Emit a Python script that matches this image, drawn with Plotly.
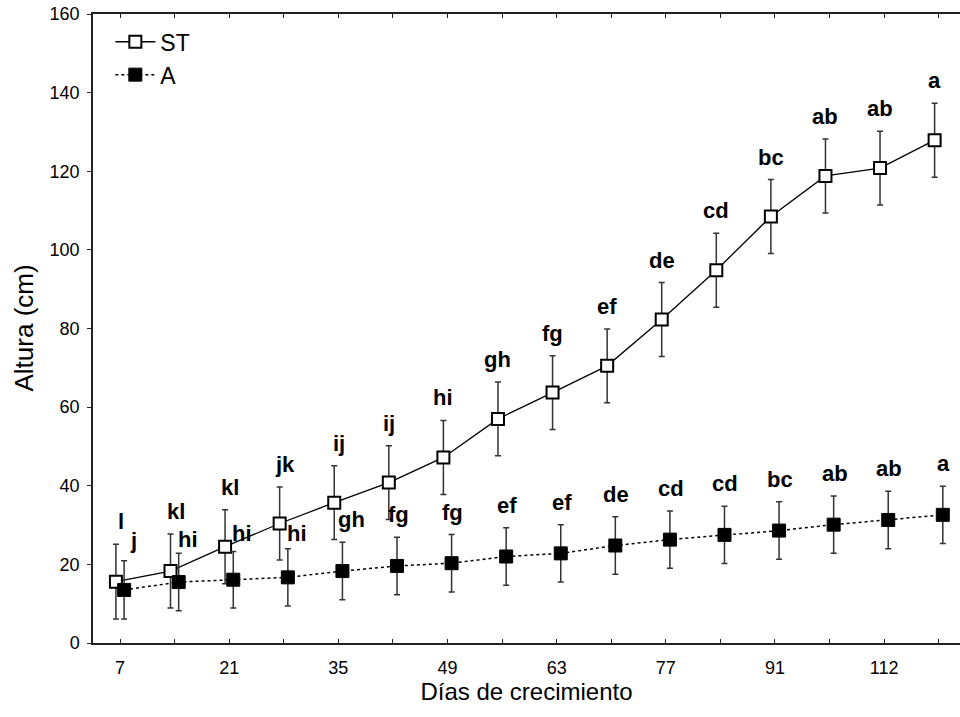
import plotly.graph_objects as go

# ---- data -------------------------------------------------------------
days = ["7", "14", "21", "28", "35", "42", "49", "56", "63", "70",
        "77", "84", "91", "105", "112", "119"]
st_mean = [15.6, 18.3, 24.5, 30.4, 35.7, 40.8, 47.2, 57.0, 63.7, 70.5,
           82.3, 94.8, 108.5, 118.8, 120.8, 127.9]
st_err = [9.5, 9.4, 9.4, 9.3, 9.4, 9.4, 9.4, 9.4, 9.4, 9.4,
          9.4, 9.4, 9.4, 9.4, 9.4, 9.4]
a_mean = [13.5, 15.5, 16.1, 16.7, 18.3, 19.6, 20.3, 22.0, 22.8, 24.8,
          26.3, 27.5, 28.6, 30.1, 31.3, 32.6]
a_err = [7.4, 7.3, 7.2, 7.3, 7.3, 7.3, 7.3, 7.3, 7.3, 7.3,
         7.3, 7.3, 7.3, 7.3, 7.3, 7.3]
st_letters = ["l", "kl", "kl", "jk", "ij", "ij", "hi", "gh", "fg", "ef",
              "de", "cd", "bc", "ab", "ab", "a"]
a_letters = ["j", "hi", "hi", "hi", "gh", "fg", "fg", "ef", "ef", "de",
             "cd", "cd", "bc", "ab", "ab", "a"]
tick_labels = [d if i % 2 == 0 else "" for i, d in enumerate(days)]

FONT = "Liberation Sans, Arial, Helvetica, sans-serif"
n = len(days)
pos = list(range(n))
dx = 0.075
x_st = [p - dx for p in pos]
x_a = [p + dx for p in pos]

fig = go.Figure()
fig.add_trace(go.Scatter(
    x=x_st, y=st_mean, name="ST", mode="lines+markers",
    line=dict(color="black", width=1.3),
    marker=dict(symbol="square", size=12, color="white",
                line=dict(color="black", width=2)),
    error_y=dict(type="data", array=st_err, visible=True,
                 color="#333333", thickness=1.5, width=3),
))
fig.add_trace(go.Scatter(
    x=x_a, y=a_mean, name="A", mode="lines+markers",
    line=dict(color="black", width=1.5, dash="dot"),
    marker=dict(symbol="square", size=13, color="black",
                line=dict(color="black", width=1)),
    error_y=dict(type="data", array=a_err, visible=True,
                 color="#333333", thickness=1.5, width=3),
))

annotations = []
for i in range(n):
    annotations.append(dict(
        x=x_st[i], y=st_mean[i] + st_err[i], text="<b>%s</b>" % st_letters[i],
        showarrow=False, yanchor="bottom", xanchor="center",
        xshift=5 if i < 5 else 0, yshift=8,
        font=dict(family=FONT, size=22, color="black")))
a_yshift = {0: 6, 1: -1, 2: 3, 3: 1}
for i in range(n):
    annotations.append(dict(
        x=x_a[i], y=a_mean[i] + a_err[i], text="<b>%s</b>" % a_letters[i],
        showarrow=False, yanchor="bottom", xanchor="center",
        xshift=9 if i < 5 else 1, yshift=a_yshift.get(i, 8),
        font=dict(family=FONT, size=22, color="black")))

# y-axis title placed as rotated text
W, H = 960, 717
ML, MR, MT, MB = 93, 0, 14, 74
annotations.append(dict(
    xref="paper", yref="paper", x=(23 - ML) / (W - ML - MR), y=0.5,
    text="Altura (cm)", textangle=-90, showarrow=False,
    xanchor="center", yanchor="middle",
    font=dict(family=FONT, size=26, color="black")))

fig.update_layout(
    width=W, height=H,
    margin=dict(l=ML, r=MR, t=MT, b=MB, autoexpand=False),
    paper_bgcolor="white", plot_bgcolor="white",
    font=dict(family=FONT, color="black"),
    showlegend=True,
    legend=dict(x=0.02, y=0.99, xanchor="left", yanchor="top",
                font=dict(family=FONT, size=23, color="black"),
                bgcolor="rgba(0,0,0,0)", tracegroupgap=0, itemwidth=40),
    annotations=annotations,
    xaxis=dict(
        range=[-0.495, 15.39], tickmode="array", tickvals=pos,
        ticktext=tick_labels, ticks="inside", ticklen=4, tickwidth=1.3,
        tickcolor="#222222", showline=True, linecolor="#222222",
        linewidth=1.5, mirror="ticks", showgrid=False, zeroline=False,
        ticklabelstandoff=8,
        tickfont=dict(family=FONT, size=18, color="black"),
        title=dict(text="Días de crecimiento", standoff=0,
                   font=dict(family=FONT, size=24, color="black")),
    ),
    yaxis=dict(
        range=[0, 160], tickmode="array", tickvals=list(range(0, 161, 20)),
        ticks="outside", ticklen=4, tickwidth=1.3, tickcolor="#222222",
        showline=True, linecolor="#222222", linewidth=1.5,
        showgrid=False, zeroline=False, ticklabelstandoff=4,
        tickfont=dict(family=FONT, size=18, color="black"),
    ),
)

fig.write_html("out.html",
               config={"displayModeBar": False},
               post_script="document.body.style.margin='0';"
                           "document.body.style.overflow='hidden';")
